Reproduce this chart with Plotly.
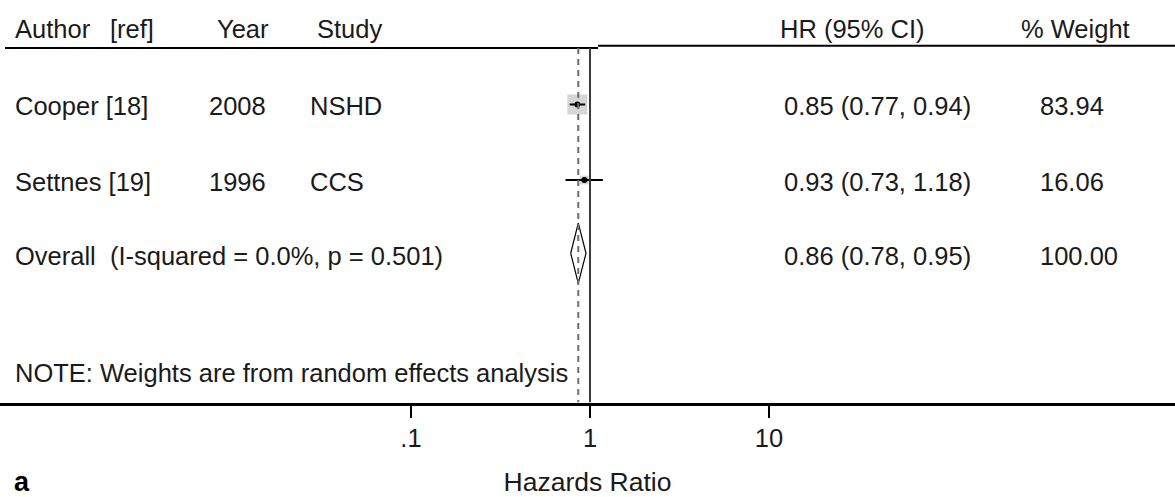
import math
import plotly.graph_objects as go

# ---- data ----
authors = ["Cooper [18]", "Settnes [19]"]
years = ["2008", "1996"]
studies = ["NSHD", "CCS"]
hr = [0.85, 0.93]
ci_lo = [0.77, 0.73]
ci_hi = [0.94, 1.18]
weights = [83.94, 16.06]

overall_hr = 0.86
overall_lo = 0.78
overall_hi = 0.95
overall_weight = 100.00
i_squared = 0.0
p_het = 0.501

tick_vals = [0.1, 1, 10]
tick_text = [".1", "1", "10"]

header_cols = ["Author", "[ref]", "Year", "Study", "HR (95% CI)", "% Weight"]
note_text = "NOTE: Weights are from random effects analysis"
x_title = "Hazards Ratio"
panel_label = "a"

# ---- layout constants ----
W, H = 1175, 497
FONT = "Liberation Sans, Arial, sans-serif"
FS = 25.5
TXT = "#1a1a1a"

def px(x):
    return x / W

rows = [1, 2]          # study rows
row_overall = 3
row_header = 0
row_note = 4.55
y_top, y_bot = -0.384, 4.947

fig = go.Figure()

# weight boxes
max_w = max(weights)
box_sizes = [20 * math.sqrt(w / max_w) for w in weights]
fig.add_trace(go.Scatter(
    x=hr, y=rows, mode="markers",
    marker=dict(symbol="square", size=box_sizes, color="#c4c4c4", line=dict(width=0)),
    hoverinfo="skip", showlegend=False))

# CIs and point estimates
fig.add_trace(go.Scatter(
    x=hr, y=rows, mode="markers",
    marker=dict(symbol="circle", size=6, color="black"),
    error_x=dict(type="data", symmetric=False,
                 array=[h - m for h, m in zip(ci_hi, hr)],
                 arrayminus=[m - l for m, l in zip(hr, ci_lo)],
                 color="black", thickness=2, width=0),
    hoverinfo="skip", showlegend=False))

# overall diamond
dh = 0.4
yc = row_overall - 0.03
fig.add_trace(go.Scatter(
    x=[overall_lo, overall_hr, overall_hi, overall_hr, overall_lo],
    y=[yc, yc - dh, yc, yc + dh, yc],
    mode="lines", line=dict(color="black", width=1.2),
    hoverinfo="skip", showlegend=False))

shapes = []
hl_left = 0.2517
hl_right = 0.2225
# header lines
shapes.append(dict(type="line", xref="paper", yref="y", x0=px(5), x1=px(598),
                   y0=hl_left, y1=hl_left, line=dict(color="black", width=2)))
shapes.append(dict(type="line", xref="paper", yref="y", x0=px(598), x1=1,
                   y0=hl_right, y1=hl_right, line=dict(color="black", width=2)))
# null line
shapes.append(dict(type="line", xref="x", yref="y", x0=1, x1=1,
                   y0=hl_left, y1=y_bot, line=dict(color="#3c3c3c", width=2)))
# overall dashed line
shapes.append(dict(type="line", xref="x", yref="y", x0=overall_hr, x1=overall_hr,
                   y0=hl_left, y1=y_bot, line=dict(color="#6e6e6e", width=2, dash="6px,5px")))

ann = []
def text(x, y, s, **kw):
    d = dict(xref="paper", yref="y", x=px(x), y=y, text=s, showarrow=False,
             xanchor="left", yanchor="middle", font=dict(family=FONT, size=FS, color=TXT))
    d.update(kw)
    ann.append(d)

# header
hx = [13, 108, 215, 315, 778, 1019]
for x, s in zip(hx, header_cols):
    text(x, row_header, s)

for r, a, yv, st, h, lo, hi, w in zip(rows, authors, years, studies, hr, ci_lo, ci_hi, weights):
    text(13, r + 0.02, a)
    text(207, r + 0.02, yv)
    text(308, r + 0.02, st)
    text(782, r + 0.02, f"{h:.2f} ({lo:.2f}, {hi:.2f})")
    text(1038, r + 0.02, f"{w:.2f}")

text(13, row_overall, f"Overall  (I-squared = {i_squared:.1f}%, p = {p_het:.3f})")
text(782, row_overall, f"{overall_hr:.2f} ({overall_lo:.2f}, {overall_hi:.2f})")
text(1038, row_overall, f"{overall_weight:.2f}")
text(13, row_note, note_text)

ann.append(dict(xref="paper", yref="paper", x=px(12), y=0, yshift=-2, text=f"<b>{panel_label}</b>",
                showarrow=False, xanchor="left", yanchor="bottom",
                font=dict(family=FONT, size=27, color="black")))

plot_bottom_px = 402.5
fig.update_layout(
    width=W, height=H, autosize=False,
    margin=dict(l=0, r=0, t=0, b=0, pad=0),
    paper_bgcolor="white", plot_bgcolor="white",
    shapes=shapes, annotations=ann,
    xaxis=dict(type="log", range=[-3.296, 3.268], domain=[0, 1],
               showgrid=False, zeroline=False,
               showline=True, linecolor="black", linewidth=3,
               ticks="outside", ticklen=12, tickwidth=2, tickcolor="black",
               tickvals=tick_vals, ticktext=tick_text, ticklabelstandoff=-1,
               tickfont=dict(family=FONT, size=FS, color=TXT),
               title=dict(text=x_title, standoff=23,
                          font=dict(family=FONT, size=26.5, color=TXT))),
    yaxis=dict(range=[y_bot, y_top], domain=[(H - plot_bottom_px) / H, 1],
               visible=False, showgrid=False, zeroline=False),
)

fig.write_html("out.html")
